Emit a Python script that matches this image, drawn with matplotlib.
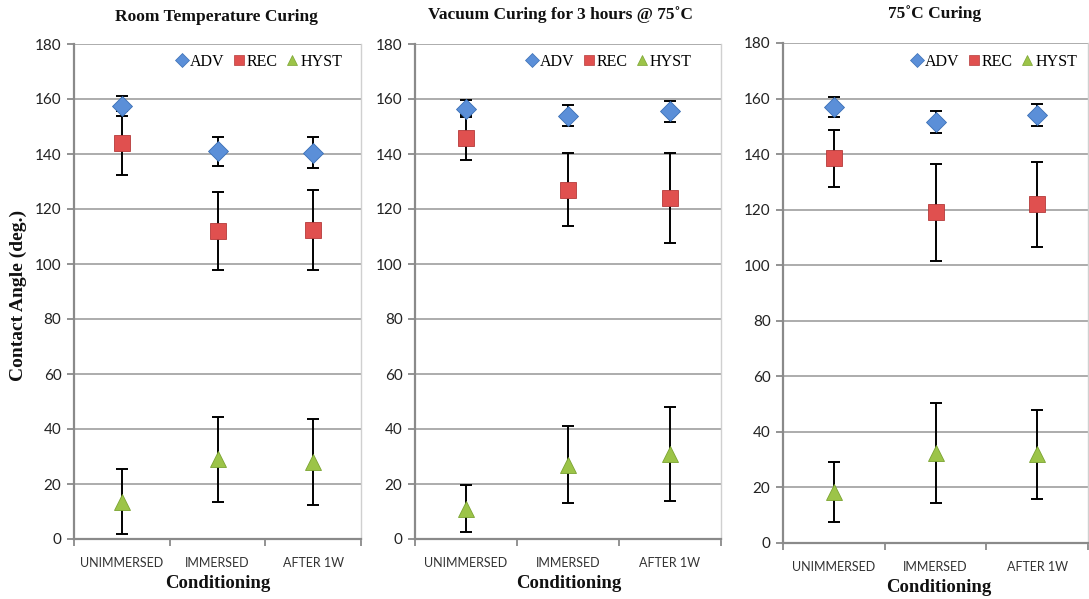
#!/usr/bin/env python3

import numpy as np
import matplotlib.pyplot as plt
from matplotlib.lines import Line2D

categories = ['UNIMMERSED', 'IMMERSED', 'AFTER 1W']
titles = ['Room Temperature Curing', 'Vacuum Curing for 3 hours @ 75˚C', '75˚C Curing']

# room temperature curing
rt_adv = [157.5, 141.0, 140.5]
rt_adv_err = [3.5, 5.2, 5.7]
rt_rec = [144.0, 112.0, 112.5]
rt_rec_err = [11.5, 14.3, 14.5]
rt_hyst = [13.5, 29.0, 28.0]
rt_hyst_err = [11.8, 15.5, 15.7]

# vacuum curing 3 h @ 75C
vac_adv = [156.5, 154.0, 155.5]
vac_adv_err = [3.2, 3.7, 3.7]
vac_rec = [146.0, 127.0, 124.0]
vac_rec_err = [8.3, 13.3, 16.3]
vac_hyst = [11.0, 27.0, 31.0]
vac_hyst_err = [8.5, 14.0, 17.0]

# 75C curing
hot_adv = [157.0, 151.5, 154.0]
hot_adv_err = [3.6, 4.0, 3.9]
hot_rec = [138.5, 119.0, 122.0]
hot_rec_err = [10.3, 17.5, 15.3]
hot_hyst = [18.5, 32.5, 32.0]
hot_hyst_err = [10.8, 18.0, 16.0]

W, H = 1089, 599
BLUE = '#5b8fd8'
RED = '#e0504f'
GREEN = '#9cc448'
GRID = '#a6a6a6'
SERIF = 'Liberation Serif'
SANS = 'Lato'


def px_axes(fig, left, top, right, bottom):
    return fig.add_axes([left / W, 1 - bottom / H, (right - left) / W, (bottom - top) / H])


def draw_panel(ax, series, leg_x, leg_y):
    x = np.arange(len(categories)) + 0.5
    styles = [('D', BLUE, '#3a6fb5', 10.5), ('s', RED, '#b53a3a', 12), ('^', GREEN, '#7aa330', 12)]
    for (vals, errs), (mk, fc, ec, ms) in zip(series, styles):
        ax.errorbar(x, vals, yerr=errs, fmt='none', ecolor='black', elinewidth=1.4,
                    capsize=4, capthick=1.4, zorder=3)
        ax.plot(x, vals, linestyle='none', marker=mk, markersize=ms, markerfacecolor=fc,
                markeredgecolor=ec, markeredgewidth=0.6, zorder=4)

    ax.set_xlim(0, 3)
    ax.set_ylim(0, 180)
    ax.set_yticks(np.arange(0, 181, 20))
    ax.yaxis.grid(True, color=GRID, linewidth=1.3)
    ax.set_axisbelow(True)
    ax.set_xticks([0, 1, 2, 3])
    ax.set_xticklabels([])
    ax.set_xticks(x, minor=True)
    ax.set_xticklabels(categories, minor=True, fontfamily=SANS, fontsize=9, color='#333333')
    ax.tick_params(axis='x', which='minor', length=0, pad=13)
    ax.tick_params(axis='x', which='major', length=5, width=1.3, color='#8a8a8a', direction='out')
    ax.tick_params(axis='y', length=5, width=1.3, color='#8a8a8a', direction='out',
                   labelsize=11, labelcolor='#222222', pad=4)
    for lab in ax.get_yticklabels():
        lab.set_fontfamily(SANS)
    ax.spines['top'].set_visible(False)
    ax.spines['right'].set_color('#d0d0d0')
    ax.spines['right'].set_linewidth(1.0)
    for s in ['left', 'bottom']:
        ax.spines[s].set_color('#8a8a8a')
        ax.spines[s].set_linewidth(1.6)

    handles = [Line2D([], [], linestyle='none', marker='D', markersize=7, markerfacecolor=BLUE, markeredgecolor='#3a6fb5', markeredgewidth=0.5),
               Line2D([], [], linestyle='none', marker='s', markersize=7, markerfacecolor=RED, markeredgecolor='#b53a3a', markeredgewidth=0.5),
               Line2D([], [], linestyle='none', marker='^', markersize=7, markerfacecolor=GREEN, markeredgecolor='#7aa330', markeredgewidth=0.5)]
    ax.legend(handles, ['ADV', 'REC', 'HYST'], loc='center right', bbox_to_anchor=(leg_x, leg_y),
              ncol=3, frameon=False, handlelength=0.8, handletextpad=0.1, columnspacing=0.5,
              borderaxespad=0, borderpad=0, prop={'family': SERIF, 'size': 11.5})


def main():
    fig = plt.figure(figsize=(W / 100, H / 100), dpi=100)
    fig.patch.set_facecolor('white')

    boxes = [(74, 44, 361, 539), (415, 44, 721, 539), (783, 43, 1088, 543)]
    data = [[(rt_adv, rt_adv_err), (rt_rec, rt_rec_err), (rt_hyst, rt_hyst_err)],
            [(vac_adv, vac_adv_err), (vac_rec, vac_rec_err), (vac_hyst, vac_hyst_err)],
            [(hot_adv, hot_adv_err), (hot_rec, hot_rec_err), (hot_hyst, hot_hyst_err)]]
    legend_pos = [(0.934, 0.964), (0.905, 0.964), (0.964, 0.962)]
    title_pos = [(216, 17), (560, 15), (935, 14)]
    xlabel_pos = [(218, 583), (569, 583), (939, 588)]

    for box, series, lp, title, tp, xp in zip(boxes, data, legend_pos, titles, title_pos, xlabel_pos):
        ax = px_axes(fig, *box)
        draw_panel(ax, series, *lp)
        fig.text(tp[0] / W, 1 - tp[1] / H, title, ha='center', va='center',
                 fontfamily=SERIF, fontweight='bold', fontsize=12.5, color='#111111')
        fig.text(xp[0] / W, 1 - xp[1] / H, 'Conditioning', ha='center', va='center',
                 fontfamily=SERIF, fontweight='bold', fontsize=13.5, color='#111111')

    fig.text(18 / W, 1 - 295 / H, 'Contact Angle (deg.)', rotation=90, ha='center', va='center',
             fontfamily=SERIF, fontweight='bold', fontsize=14, color='#111111')

    fig.savefig('out.png', dpi=100)


if __name__ == "__main__":
    main()
